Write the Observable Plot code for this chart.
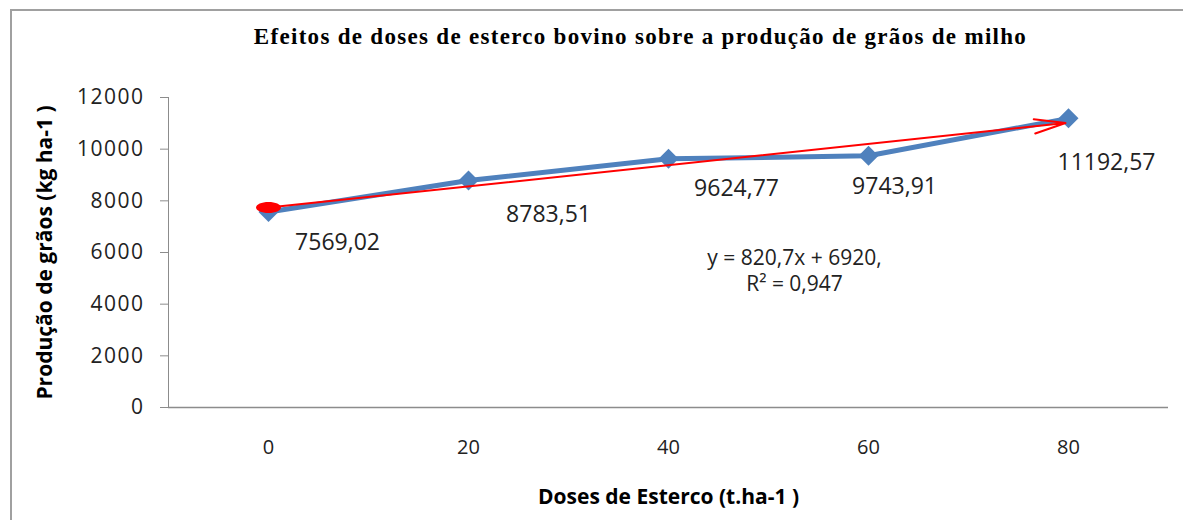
<!DOCTYPE html>
<html><head><meta charset="utf-8">
<script src="https://cdn.jsdelivr.net/npm/d3@7"></script>
<script src="https://cdn.jsdelivr.net/npm/@observablehq/plot@0.6"></script>
<style>
body{margin:0;background:#fff;}
#wrap{position:relative;width:1183px;height:520px;overflow:hidden;font-family:"Open Sans",sans-serif;background:#fff;}
#frame{position:absolute;left:10px;top:9px;width:1200px;height:600px;border:2px solid #a0a0a0;box-sizing:border-box;}
#title{position:absolute;top:24px;left:49px;width:1183px;text-align:center;font-family:"Liberation Serif",serif;font-weight:bold;font-size:23px;letter-spacing:1.3px;color:#000;}
#chart{position:absolute;top:60px;left:0;}
g[aria-label="y-axis tick label"]{letter-spacing:1.5px;}
g[aria-label="equacao"]{letter-spacing:1px;}
</style></head>
<body><div id="wrap"><div id="frame"></div><div id="title">Efeitos de doses de esterco bovino sobre a produção de grãos de milho</div><div id="chart"></div></div>
<script>
const doses = [0, 20, 40, 60, 80];
const producao = [7569.02, 8783.51, 9624.77, 9743.91, 11192.57];
const rotulos = ["7569,02", "8783,51", "9624,77", "9743,91", "11192,57"];
const yTicks = [0, 2000, 4000, 6000, 8000, 10000, 12000];
const trendSlope = 820.7;
const trendIntercept = 6920;
const equacao = ["y = 820,7x + 6920,", "R² = 0,947"];
const xTitle = "Doses de Esterco (t.ha-1 )";
const yTitle = "Produção de grãos (kg ha-1 )";

const data = doses.map((d, i) => ({dose: d, prod: producao[i], label: rotulos[i]}));
const trend = [{
  x1: doses[0], y1: trendIntercept + trendSlope * 1,
  x2: doses[doses.length - 1], y2: trendIntercept + trendSlope * doses.length
}];

const oval = {draw(ctx) {
  const rx = 12.5, ry = 5.5, k = 0.5523;
  ctx.moveTo(-rx, 0);
  ctx.bezierCurveTo(-rx, -ry * k, -rx * k, -ry, 0, -ry);
  ctx.bezierCurveTo(rx * k, -ry, rx, -ry * k, rx, 0);
  ctx.bezierCurveTo(rx, ry * k, rx * k, ry, 0, ry);
  ctx.bezierCurveTo(-rx * k, ry, -rx, ry * k, -rx, 0);
  ctx.closePath();
}};

const offsets = [[69, 31], [80, 34], [68, 30], [26, 31], [38, 44]];
const labelMarks = data.map((d, i) => Plot.text([d], {
  x: "dose", y: "prod", text: "label", dx: offsets[i][0], dy: offsets[i][1],
  fontSize: 23, fill: "#222", lineAnchor: "middle"
}));

const eqMarks = equacao.map((line, i) => Plot.text([line], {
  frameAnchor: "top-left", dx: 626, dy: 161 + i * 26, fontSize: 21, fill: "#222",
  lineAnchor: "middle", textAnchor: "middle", ariaLabel: "equacao"
}));

const chart = Plot.plot({
  width: 1183, height: 460,
  marginLeft: 168, marginRight: 15, marginTop: 37, marginBottom: 113,
  style: {fontFamily: "Open Sans", background: "transparent", overflow: "visible"},
  x: {type: "point", domain: doses, padding: 0.5},
  y: {domain: [0, 12000]},
  marks: [
    Plot.frame({anchor: "left", stroke: "#8c8c8c"}),
    Plot.ruleY([0], {stroke: "#8c8c8c", strokeWidth: 1.5}),
    Plot.axisY({ticks: yTicks, tickSize: 8, tickPadding: 16, stroke: "#8c8c8c", fontSize: 21, fill: "#222", label: null, tickFormat: d => String(d)}),
    Plot.axisX({tickSize: 0, tickPadding: 32, fontSize: 20, fill: "#222", label: null}),
    Plot.line(data, {x: "dose", y: "prod", stroke: "#4F81BD", strokeWidth: 5}),
    Plot.dot(data, {x: "dose", y: "prod", symbol: "diamond2", r: 9, fill: "#4F81BD"}),
    Plot.arrow(trend, {x1: "x1", y1: "y1", x2: "x2", y2: "y2", stroke: "red", strokeWidth: 2, headLength: 24, headAngle: 26, insetEnd: 3}),
    Plot.dot([trend[0]], {x: "x1", y: "y1", symbol: oval, fill: "red"}),
    ...labelMarks,
    ...eqMarks,
    Plot.text([xTitle], {frameAnchor: "bottom", dy: 90, fontSize: 21, fontWeight: "bold", fill: "#000", lineAnchor: "middle", textAnchor: "middle"}),
    Plot.text([yTitle], {frameAnchor: "left", dx: -123, rotate: -90, fontSize: 21, fontWeight: "bold", fill: "#000", lineAnchor: "middle", textAnchor: "middle"})
  ]
});
document.getElementById("chart").appendChild(chart);
</script></body></html>
